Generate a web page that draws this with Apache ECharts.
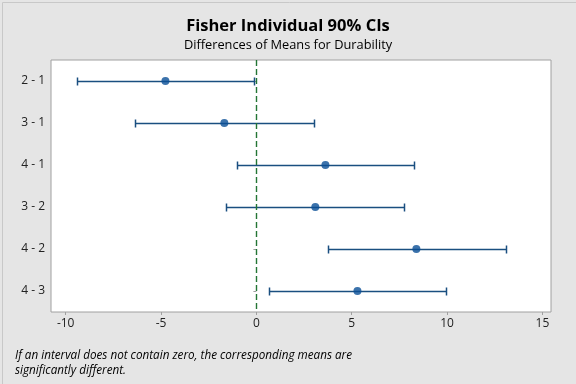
<!DOCTYPE html>
<html><head><meta charset="utf-8">
<script src="https://cdn.jsdelivr.net/npm/echarts@6/dist/echarts.min.js"></script>
<style>html,body{margin:0;padding:0;background:#e5e5e5}#c{width:576px;height:384px}</style>
</head><body><div id="c"></div>
<script>
const categories = ['2 - 1','3 - 1','4 - 1','3 - 2','4 - 2','4 - 3'];
const centers = [-4.77, -1.68, 3.62, 3.09, 8.39, 5.30];
const lowers  = [-9.40, -6.34, -1.02, -1.57, 3.74, 0.66];
const uppers  = [-0.12, 3.01, 8.28, 7.76, 13.07, 9.96];
const xTicks = [-10, -5, 0, 5, 10, 15];

const FONT = '"Open Sans", "Noto Sans", sans-serif';
const chart = echarts.init(document.getElementById('c'), null, {renderer:'canvas'});
chart.setOption({
  backgroundColor: '#e5e5e5',
  animation: false,
  title: [
    {text:'Fisher Individual 90% CIs', left:'center', top:13,
     textStyle:{fontFamily:FONT, fontSize:16.5, fontWeight:'bold', color:'#000'}},
    {text:'Differences of Means for Durability', left:'center', top:34,
     textStyle:{fontFamily:FONT, fontSize:12.8, fontWeight:'normal', color:'#000'}}
  ],
  graphic: [
    {type:'rect', left:0, top:0, shape:{width:575, height:383}, style:{fill:'none', stroke:'#c8c8c8', lineWidth:1}, z:100},
    {type:'text', left:15, top:348, style:{text:'If an interval does not contain zero, the corresponding means are\nsignificantly different.', font:'italic 11.7px ' + FONT, fill:'#000', lineHeight:15}}
  ],
  grid: {left:51, right:25, top:60, bottom:72, show:true, backgroundColor:'#fff', borderColor:'#a0a0a0', borderWidth:1},
  xAxis: {
    type:'value', min:-10.77, max:15.45, interval:5,
    axisLine:{show:false},
    splitLine:{show:false},
    axisLabel:{fontFamily:FONT, fontSize:12, color:'#222', margin:6, customValues: xTicks},
    axisTick:{show:true, length:3, lineStyle:{color:'#a0a0a0'}, customValues: xTicks}
  },
  yAxis: {
    type:'category', data:categories, inverse:true,
    axisLine:{show:false},
    axisTick:{show:true, alignWithLabel:true, length:3, lineStyle:{color:'#a0a0a0'}},
    axisLabel:{fontFamily:FONT, fontSize:12, color:'#222', margin:6, padding:[3,0,0,0]}
  },
  series: [
    {
      type:'custom',
      data: categories.map((c,i)=>[lowers[i], uppers[i], i]),
      renderItem: function(params, api){
        const lo = api.coord([api.value(0), api.value(2)]);
        const hi = api.coord([api.value(1), api.value(2)]);
        const y = Math.round(lo[1]) + 0.5;
        const x1 = Math.round(lo[0]) + 0.5, x2 = Math.round(hi[0]) + 0.5;
        const h = 4;
        const st = {stroke:'#1a4f80', lineWidth:1.5};
        return {type:'group', children:[
          {type:'line', shape:{x1:x1, y1:y, x2:x2, y2:y}, style:st},
          {type:'line', shape:{x1:x1, y1:y-h, x2:x1, y2:y+h}, style:st},
          {type:'line', shape:{x1:x2, y1:y-h, x2:x2, y2:y+h}, style:st}
        ]};
      },
      encode:{x:[0,1], y:2},
      z:2
    },
    {
      type:'scatter',
      data: categories.map((c,i)=>[centers[i], c]),
      symbol:'circle', symbolSize:8,
      itemStyle:{color:'#0a4f96'},
      z:3,
      markLine:{
        silent:true, symbol:'none',
        lineStyle:{color:'#237535', type:[6,3], width:1.4},
        label:{show:false},
        data:[{xAxis:0}]
      }
    }
  ]
});
</script></body></html>
